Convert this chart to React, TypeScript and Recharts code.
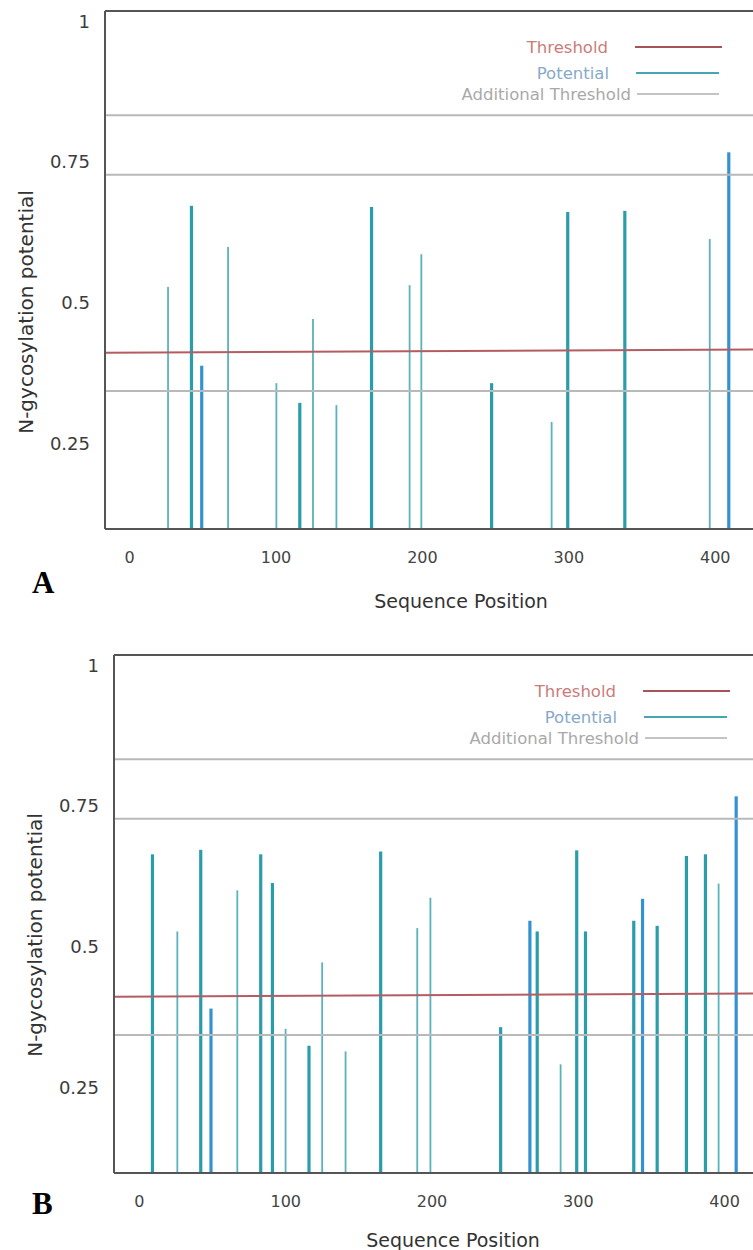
import { ComposedChart, Bar, XAxis, YAxis, ReferenceLine, Legend } from 'recharts'

const X_TICKS = [0, 100, 200, 300, 400]
const Y_TICKS = [0.25, 0.5, 0.75, 1]
const Y_DOMAIN: [number, number] = [0.098, 1.018]

// panel A: predicted sites
const POS_A = [26, 42, 49, 67, 100, 116, 125, 141, 165, 191, 199, 247, 288, 299, 338, 396, 409]
const VAL_A = [0.528, 0.672, 0.388, 0.599, 0.357, 0.322, 0.471, 0.318, 0.67, 0.531, 0.586, 0.357, 0.288, 0.661, 0.663, 0.613, 0.767]
const KIND_A = ['thin', 'thick', 'blue', 'thin', 'thin', 'thick', 'thin', 'thin', 'thick', 'thin', 'thin', 'thick', 'thin', 'thick', 'thick', 'thin', 'blue']

// panel B
const POS_B = [9, 26, 42, 49, 67, 83, 91, 100, 116, 125, 141, 165, 190, 199, 247, 267, 272, 288, 299, 305, 338, 344, 354, 374, 387, 396, 408]
const VAL_B = [0.664, 0.527, 0.672, 0.39, 0.6, 0.664, 0.613, 0.354, 0.324, 0.472, 0.314, 0.669, 0.533, 0.587, 0.357, 0.546, 0.527, 0.291, 0.671, 0.527, 0.546, 0.585, 0.537, 0.661, 0.664, 0.612, 0.767]
const KIND_B = ['thick', 'thin', 'thick', 'blue', 'thin', 'thick', 'thick', 'thin', 'thick', 'thin', 'thin', 'thick', 'thin', 'thin', 'thick', 'blue', 'thick', 'thin', 'thick', 'thick', 'thick', 'blue', 'thick', 'thick', 'thick', 'thin', 'blue']

// threshold drawn slightly tilted, left end / right end
const THRESHOLD = [0.411, 0.417]
const EXTRA_THRESHOLDS = [0.833, 0.727, 0.343]
const LEGEND_LABELS = ['Threshold', 'Potential', 'Additional Threshold']

const FONT = '"DejaVu Sans", Verdana, sans-serif'
const AXIS = '#555'
const BAR_COLOR: Record<string, string> = { thick: '#2a9dab', thin: '#5ab3bc', blue: '#3592d2' }
const BAR_WIDTH: Record<string, number> = { thick: 3.2, thin: 1.8, blue: 3.2 }

const LEGEND_ROWS = [
  { color: '#c97c7c', line: '#a5555a', len: 87, thick: 2.5, gap: 27, top: 37, shift: 0 },
  { color: '#87a9c9', line: '#45a7b0', len: 83, thick: 2.5, gap: 27, top: 63, shift: 3 },
  { color: '#a9a9a9', line: '#c4c4c4', len: 82, thick: 1.5, gap: 6, top: 84, shift: 3 },
]

function Stem(props: any) {
  const { x, y, width, height, payload } = props
  const w = BAR_WIDTH[payload.kind]
  return <rect x={x + width / 2 - w / 2} y={y} width={w} height={height} fill={BAR_COLOR[payload.kind]} />
}

function LegendBox({ right }: { right: number }) {
  return (
    <div style={{ position: 'relative', fontFamily: FONT, fontSize: 16.5 }}>
      {LEGEND_LABELS.map((label, i) => {
        const r = LEGEND_ROWS[i]
        return (
          <div key={label} style={{ position: 'absolute', top: r.top, right: right + r.shift, display: 'flex', alignItems: 'center', height: 20, whiteSpace: 'nowrap' }}>
            <span style={{ color: r.color, marginRight: r.gap }}>{label}</span>
            <span style={{ display: 'inline-block', width: r.len, height: r.thick, background: r.line }} />
          </div>
        )
      })}
    </div>
  )
}

interface PanelProps {
  pos: number[]
  val: number[]
  kind: string[]
  xDomain: [number, number]
  left: number
  top: number
  legendRight: number
  yTitleY: number
  xTitle: [number, number]
}

function Panel({ pos, val, kind, xDomain, left, top, legendRight, yTitleY, xTitle }: PanelProps) {
  const data = pos.map((p, i) => ({ pos: p, value: val[i], kind: kind[i] }))
  return (
    <div style={{ position: 'absolute', left, top }}>
      <ComposedChart width={753 - left} height={620} data={data} margin={{ top: 11, right: 0, bottom: 0, left: 0 }}>
        <XAxis
          dataKey="pos"
          type="number"
          domain={xDomain}
          allowDataOverflow
          ticks={X_TICKS}
          interval={0}
          height={91}
          tickLine={false}
          tickSize={0}
          tickMargin={23}
          axisLine={{ stroke: AXIS, strokeWidth: 2 }}
          tick={{ fontSize: 16, fill: '#444', fontFamily: FONT }}
          label={() => (
            <text x={xTitle[0]} y={xTitle[1]} textAnchor="middle" dominantBaseline="central" fontSize={19} fill="#333" fontFamily={FONT}>
              Sequence Position
            </text>
          )}
        />
        <YAxis
          type="number"
          domain={Y_DOMAIN}
          allowDataOverflow
          ticks={Y_TICKS}
          interval={0}
          width={105}
          tickLine={false}
          tickSize={0}
          tickMargin={15}
          axisLine={{ stroke: AXIS, strokeWidth: 2 }}
          tick={{ fontSize: 18, fill: '#3c3c3c', fontFamily: FONT }}
          label={() => (
            <text x={26} y={yTitleY} transform={`rotate(-90 26 ${yTitleY})`} textAnchor="middle" dominantBaseline="central" fontSize={20} fill="#333" fontFamily={FONT}>
              N-gycosylation potential
            </text>
          )}
        />
        <ReferenceLine y={Y_DOMAIN[1]} stroke={AXIS} strokeWidth={2} ifOverflow="visible" />
        {EXTRA_THRESHOLDS.map((v) => (
          <ReferenceLine key={v} y={v} stroke="#b9b9b9" strokeWidth={2} />
        ))}
        <ReferenceLine
          segment={[{ x: xDomain[0], y: THRESHOLD[0] }, { x: xDomain[1], y: THRESHOLD[1] }]}
          stroke="#b35c62"
          strokeWidth={2}
          ifOverflow="visible"
        />
        <Bar dataKey="value" barSize={3} shape={(p: any) => <Stem {...p} />} isAnimationActive={false} />
        <Legend
          layout="horizontal"
          verticalAlign="middle"
          align="center"
          wrapperStyle={{ left: 0, top: 0, width: '100%', height: 0 }}
          content={() => <LegendBox right={legendRight} />}
        />
      </ComposedChart>
    </div>
  )
}

const panelLetter = { position: 'absolute' as const, fontFamily: '"Liberation Serif", "Times New Roman", serif', fontWeight: 700, fontSize: 31, lineHeight: '31px', color: '#000' }

export default function App() {
  return (
    <div style={{ position: 'relative', width: 753, height: 1250, background: '#fff', overflow: 'hidden' }}>
      <style>{'body { margin: 0; }'}</style>
      <Panel pos={POS_A} val={VAL_A} kind={KIND_A} xDomain={[-16.8, 425.8]} left={0} top={0} legendRight={31} yTitleY={312} xTitle={[461, 601]} />
      <Panel pos={POS_B} val={VAL_B} kind={KIND_B} xDomain={[-17.4, 419.4]} left={9} top={644} legendRight={23} yTitleY={291} xTitle={[444, 596]} />
      <div style={{ ...panelLetter, left: 32, top: 567 }}>A</div>
      <div style={{ ...panelLetter, left: 32, top: 1188 }}>B</div>
    </div>
  )
}
